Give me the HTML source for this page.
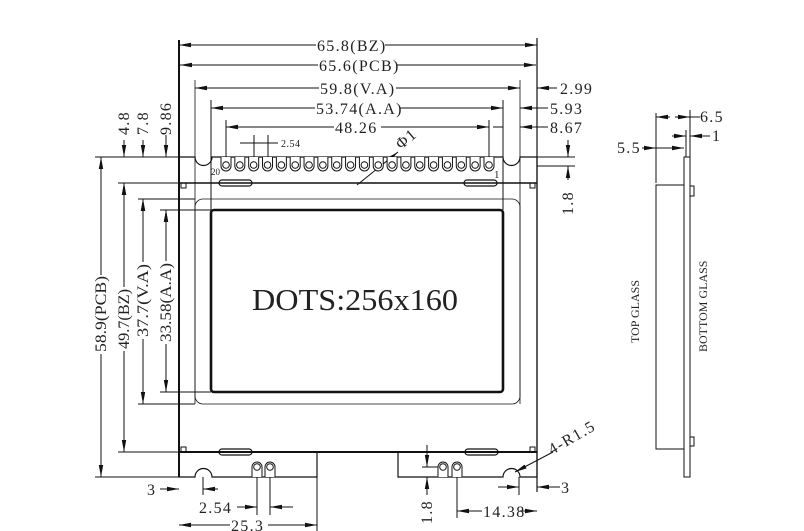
<!DOCTYPE html>
<html><head><meta charset="utf-8"><style>
html,body{margin:0;padding:0;background:#fff;}
svg{display:block;}
text{font-family:"Liberation Serif",serif;fill:#222;}
</style></head><body>
<svg width="804" height="531" viewBox="0 0 804 531" xmlns="http://www.w3.org/2000/svg">
<defs>
<marker id="a" markerWidth="12" markerHeight="6" refX="12" refY="3" orient="auto" markerUnits="userSpaceOnUse"><path d="M0,0.8 L12,3 L0,5.2z" fill="#111"/></marker>
<marker id="b" markerWidth="12" markerHeight="6" refX="0" refY="3" orient="auto" markerUnits="userSpaceOnUse"><path d="M12,0.8 L0,3 L12,5.2z" fill="#111"/></marker>
</defs>
<g stroke="#111" fill="none" stroke-width="1">
<path d="M179,477 L179,157 L195,157 A8.5,8.5 0 0 0 212,157 L503,157 A8.5,8.5 0 0 0 520,157 L537,157 L537,477 L520,477 A8.5,8.5 0 0 0 503,477 L398,477 L398,452 L317,452 L317,477 L212,477 A8.5,8.5 0 0 0 195,477 Z" stroke-width="1.2"/>
<line x1="179" y1="40" x2="179" y2="477" stroke-width="2"/>
<line x1="537" y1="38" x2="537" y2="492" stroke-width="1.2"/>
<line x1="179" y1="183" x2="537" y2="183" stroke-width="1.5"/>
<line x1="179" y1="452" x2="537" y2="452" stroke-width="2"/>
<rect x="181" y="183" width="5" height="5"/><rect x="530" y="183" width="5" height="5"/>
<rect x="181" y="447" width="5" height="5"/><rect x="530" y="447" width="5" height="5"/>
<rect x="219" y="180" width="33" height="6" rx="3" stroke-width="1.2"/>
<rect x="464" y="180" width="33" height="6" rx="3" stroke-width="1.2"/>
<rect x="219" y="449" width="33" height="6" rx="3" stroke-width="1.2"/>
<rect x="465" y="449" width="33" height="6" rx="3" stroke-width="1.2"/>
<rect x="195" y="199" width="325" height="205" rx="8" stroke-width="0.8"/>
<rect x="211" y="210" width="292" height="182" rx="3" stroke-width="2.6"/>
<line x1="95" y1="157" x2="179" y2="157"/>
<line x1="118" y1="183" x2="179" y2="183"/>
<line x1="138" y1="199" x2="195" y2="199"/>
<line x1="160" y1="210" x2="211" y2="210"/>
<line x1="160" y1="392" x2="211" y2="392"/>
<line x1="138" y1="404" x2="195" y2="404"/>
<line x1="118" y1="452" x2="179" y2="452"/>
<line x1="95" y1="477" x2="179" y2="477"/>
<line x1="195" y1="80" x2="195" y2="404" stroke-width="0.8"/>
<line x1="211" y1="100" x2="211" y2="210"/>
<line x1="226" y1="120" x2="226" y2="165"/>
<line x1="520" y1="80" x2="520" y2="404" stroke-width="0.8"/>
<line x1="503" y1="100" x2="503" y2="210"/>
<line x1="489" y1="120" x2="489" y2="165"/>
<line x1="537" y1="157" x2="575" y2="157"/>
<line x1="537" y1="166" x2="575" y2="166"/>
<line x1="101" y1="157" x2="101" y2="275" marker-start="url(#b)"/><line x1="101" y1="354" x2="101" y2="477" marker-end="url(#a)"/>
<line x1="124" y1="183" x2="124" y2="287" marker-start="url(#b)"/><line x1="124" y1="351" x2="124" y2="452" marker-end="url(#a)"/>
<line x1="143" y1="199" x2="143" y2="262" marker-start="url(#b)"/><line x1="143" y1="339" x2="143" y2="404" marker-end="url(#a)"/>
<line x1="166" y1="210" x2="166" y2="261" marker-start="url(#b)"/><line x1="166" y1="344" x2="166" y2="392" marker-end="url(#a)"/>
<line x1="124" y1="140" x2="124" y2="157" marker-end="url(#a)"/><line x1="124" y1="198" x2="124" y2="183" marker-end="url(#a)"/>
<line x1="143" y1="140" x2="143" y2="157" marker-end="url(#a)"/><line x1="143" y1="214" x2="143" y2="199" marker-end="url(#a)"/>
<line x1="166" y1="135" x2="166" y2="157" marker-end="url(#a)"/><line x1="166" y1="225" x2="166" y2="210" marker-end="url(#a)"/>
<line x1="316" y1="45" x2="179" y2="45" marker-end="url(#a)"/><line x1="385" y1="45" x2="537" y2="45" marker-end="url(#a)"/>
<line x1="318" y1="65" x2="180" y2="65" marker-end="url(#a)"/><line x1="396" y1="65" x2="536" y2="65" marker-end="url(#a)"/>
<line x1="319" y1="88" x2="195" y2="88" marker-end="url(#a)"/><line x1="396" y1="88" x2="520" y2="88" marker-end="url(#a)"/>
<line x1="315" y1="108" x2="211" y2="108" marker-end="url(#a)"/><line x1="400" y1="108" x2="503" y2="108" marker-end="url(#a)"/>
<line x1="334" y1="127" x2="226" y2="127" marker-end="url(#a)"/><line x1="381" y1="127" x2="489" y2="127" marker-end="url(#a)"/>
<line x1="557" y1="88" x2="537" y2="88" marker-end="url(#a)"/>
<line x1="548" y1="108" x2="520" y2="108" marker-end="url(#a)"/>
<line x1="548" y1="127" x2="520" y2="127" marker-end="url(#a)"/>
<line x1="493" y1="127" x2="503" y2="127"/>
<line x1="493" y1="108" x2="503" y2="108"/>
<line x1="240" y1="143" x2="278" y2="143"/>
<line x1="254" y1="135" x2="254" y2="165"/><line x1="268" y1="135" x2="268" y2="165"/>
<line x1="568" y1="140" x2="568" y2="157" marker-end="url(#a)"/><line x1="568" y1="180" x2="568" y2="166" marker-end="url(#a)"/>
<line x1="357" y1="185" x2="398" y2="152" marker-end="url(#a)"/>
<line x1="317" y1="477" x2="317" y2="531"/>
<line x1="203" y1="477" x2="203" y2="495"/>
<line x1="160" y1="489" x2="179" y2="489" marker-end="url(#a)"/><line x1="218" y1="489" x2="203" y2="489" marker-end="url(#a)"/>
<line x1="237" y1="507" x2="257" y2="507" marker-end="url(#a)"/><line x1="293" y1="507" x2="270" y2="507" marker-end="url(#a)"/>
<line x1="257" y1="467" x2="257" y2="515"/><line x1="270" y1="467" x2="270" y2="515"/>
<line x1="230" y1="525" x2="179" y2="525" marker-end="url(#a)"/><line x1="268" y1="525" x2="317" y2="525" marker-end="url(#a)"/>
<line x1="457" y1="467" x2="457" y2="518"/>
<line x1="422" y1="467" x2="443" y2="467"/>
<line x1="427" y1="445" x2="427" y2="467" marker-end="url(#a)"/><line x1="427" y1="495" x2="427" y2="477" marker-end="url(#a)"/>
<line x1="482" y1="511" x2="457" y2="511" marker-end="url(#a)"/><line x1="520" y1="511" x2="537" y2="511" marker-end="url(#a)"/>
<line x1="519" y1="477" x2="519" y2="495"/>
<line x1="498" y1="487" x2="519" y2="487" marker-end="url(#a)"/><line x1="560" y1="487" x2="537" y2="487" marker-end="url(#a)"/>
<line x1="553" y1="452" x2="515" y2="472" marker-end="url(#a)"/>
<rect x="656" y="185" width="28" height="264"/>
<rect x="684" y="157" width="6" height="320"/>
<path d="M690,186 L694,186 L694,196 L690,196"/>
<path d="M690,437 L694,437 L694,446 L690,446"/>
<line x1="656" y1="113" x2="656" y2="183"/>
<line x1="690" y1="110" x2="690" y2="157"/>
<line x1="686" y1="130" x2="686" y2="157"/>
<line x1="670" y1="117" x2="656" y2="117" marker-end="url(#a)"/><line x1="675" y1="117" x2="690" y2="117" marker-end="url(#a)"/>
<line x1="690" y1="117" x2="700" y2="117"/>
<line x1="672" y1="136" x2="686" y2="136" marker-end="url(#a)"/><line x1="710" y1="136" x2="690" y2="136" marker-end="url(#a)"/>
<line x1="642" y1="148" x2="656" y2="148" marker-end="url(#a)"/><line x1="656" y1="148" x2="684" y2="148" marker-end="url(#a)"/>
</g>
<g stroke="#111" fill="#fff" stroke-width="1">
<g id="pg">
<path d="M221,157 L221,166 A5,5 0 0 0 231,166 L231,157"/><circle cx="226" cy="165" r="3.3"/>
</g>
<use href="#pg" x="13.84"/><use href="#pg" x="27.68"/><use href="#pg" x="41.52"/><use href="#pg" x="55.36"/>
<use href="#pg" x="69.2"/><use href="#pg" x="83.04"/><use href="#pg" x="96.88"/><use href="#pg" x="110.72"/>
<use href="#pg" x="124.56"/><use href="#pg" x="138.4"/><use href="#pg" x="152.24"/><use href="#pg" x="166.08"/>
<use href="#pg" x="179.92"/><use href="#pg" x="193.76"/><use href="#pg" x="207.6"/><use href="#pg" x="221.44"/>
<use href="#pg" x="235.28"/><use href="#pg" x="249.12"/><use href="#pg" x="263"/>
<g id="bp"><path d="M252,477 L252,467 A5,5 0 0 1 262,467 L262,477"/><circle cx="257" cy="467" r="3.3"/></g>
<use href="#bp" x="13"/><use href="#bp" x="186"/><use href="#bp" x="200"/>
</g>
<g font-size="16" letter-spacing="1.3">
<text x="317" y="51">65.8(BZ)</text>
<text x="319" y="71">65.6(PCB)</text>
<text x="320" y="94">59.8(V.A)</text>
<text x="316" y="114">53.74(A.A)</text>
<text x="335" y="133">48.26</text>
<text x="560" y="94">2.99</text>
<text x="550" y="114">5.93</text>
<text x="550" y="133">8.67</text>
<text x="281" y="147" font-size="10" letter-spacing="0.5">2.54</text>
<text x="211" y="175" font-size="9" letter-spacing="0">20</text>
<text x="494" y="178" font-size="11">1</text>
<text x="401" y="150" transform="rotate(-40 401 150)">Φ1</text>
<text transform="translate(129,135) rotate(-90)">4.8</text>
<text transform="translate(148,135) rotate(-90)">7.8</text>
<text transform="translate(171,135) rotate(-90)">9.86</text>
<text transform="translate(573,215) rotate(-90)">1.8</text>
<g letter-spacing="0">
<text transform="translate(106,352) rotate(-90)" textLength="76" lengthAdjust="spacingAndGlyphs">58.9(PCB)</text>
<text transform="translate(129,349) rotate(-90)" textLength="60" lengthAdjust="spacingAndGlyphs">49.7(BZ)</text>
<text transform="translate(148,337) rotate(-90)" textLength="73" lengthAdjust="spacingAndGlyphs">37.7(V.A)</text>
<text transform="translate(171,342) rotate(-90)" textLength="79" lengthAdjust="spacingAndGlyphs">33.58(A.A)</text>
</g>
<text x="147" y="495">3</text>
<text x="199" y="513">2.54</text>
<text x="231" y="531">25.3</text>
<text transform="translate(432,524) rotate(-90)">1.8</text>
<text x="483" y="517">14.38</text>
<text x="561" y="493">3</text>
<text transform="translate(552,455) rotate(-30)">4-R1.5</text>
<text x="700" y="122">6.5</text>
<text x="712" y="141">1</text>
<text x="617" y="153">5.5</text>
<text transform="translate(639,343) rotate(-90)" font-size="12" letter-spacing="0">TOP GLASS</text>
<text transform="translate(707,352) rotate(-90)" font-size="12" letter-spacing="0">BOTTOM GLASS</text>
<text x="252" y="310" font-size="31" letter-spacing="0" textLength="206" lengthAdjust="spacingAndGlyphs">DOTS:256x160</text>
</g>
</svg>
</body></html>
